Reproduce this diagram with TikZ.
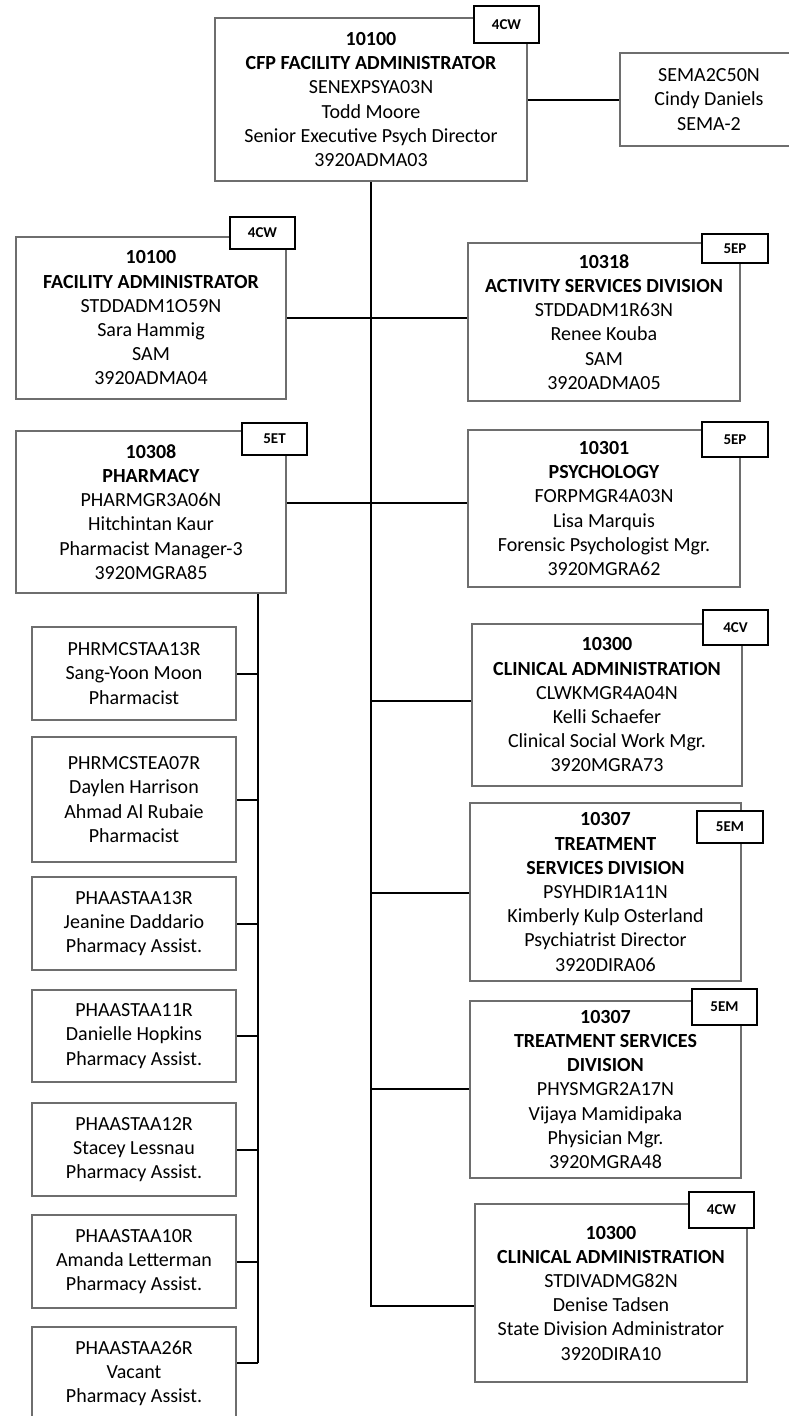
\documentclass[tikz,border=0pt]{standalone}
\usepackage{fontspec}
\setmainfont{Carlito}
\definecolor{boxgray}{RGB}{110,110,110}
\begin{document}
\begin{tikzpicture}[x=1pt,y=-1pt,
  pbox/.style={draw=boxgray, line width=1.1pt, fill=white, align=center, inner sep=0pt, font=\fontsize{20}{24.2}\selectfont},
  tagbox/.style={draw=black, line width=1.8pt, fill=white, inner sep=0pt, font=\fontsize{15}{16}\selectfont\bfseries},
  conn/.style={line width=2pt, black}]
\useasboundingbox (0,0) rectangle (788,1416);

% junction coordinates
\coordinate (j1) at (371,318);
\coordinate (j2) at (371,503);
\coordinate (j3) at (371,701);
\coordinate (j4) at (371,893);
\coordinate (j5) at (371,1089);
\coordinate (jend) at (371,1306);
\coordinate (pstart) at (258,593);
\coordinate (pend) at (258,1363);

% connectors (drawn first, boxes on top)
\draw[conn] (371,181) -- (jend) -- (475,1306);
\draw[conn] (pstart) -- (pend);

% main boxes
\node[pbox, minimum width=312pt, minimum height=163pt] (top) at (371,99.5)
  {\textbf{10100}\\\textbf{CFP FACILITY ADMINISTRATOR}\\SENEXPSYA03N\\Todd Moore\\Senior Executive Psych Director\\3920ADMA03};
\node[pbox, minimum width=178pt, minimum height=93pt] (sema) at (709,99.5)
  {SEMA2C50N\\Cindy Daniels\\SEMA-2};
\node[pbox, minimum width=270pt, minimum height=162pt] (fa) at (151,318)
  {\textbf{10100}\\\textbf{FACILITY ADMINISTRATOR}\\STDDADM1O59N\\Sara Hammig\\SAM\\3920ADMA04};
\node[pbox, minimum width=272pt, minimum height=158pt] (asd) at (604,322)
  {\textbf{10318}\\\textbf{ACTIVITY SERVICES DIVISION}\\STDDADM1R63N\\Renee Kouba\\SAM\\3920ADMA05};
\node[pbox, minimum width=270pt, minimum height=162pt] (ph) at (151,512)
  {\textbf{10308}\\\textbf{PHARMACY}\\PHARMGR3A06N\\Hitchintan Kaur\\Pharmacist Manager-3\\3920MGRA85};
\node[pbox, minimum width=272pt, minimum height=157pt] (psy) at (604,508.5)
  {\textbf{10301}\\\textbf{PSYCHOLOGY}\\FORPMGR4A03N\\Lisa Marquis\\Forensic Psychologist Mgr.\\3920MGRA62};
\node[pbox, minimum width=270pt, minimum height=162pt] (ca1) at (607,705)
  {\textbf{10300}\\\textbf{CLINICAL ADMINISTRATION}\\CLWKMGR4A04N\\Kelli Schaefer\\Clinical Social Work Mgr.\\3920MGRA73};
\node[pbox, minimum width=271pt, minimum height=178pt] (ts1) at (605.5,892)
  {\textbf{10307}\\\textbf{TREATMENT}\\\textbf{SERVICES DIVISION}\\PSYHDIR1A11N\\Kimberly Kulp Osterland\\Psychiatrist Director\\3920DIRA06};
\node[pbox, minimum width=271pt, minimum height=177pt] (ts2) at (605.5,1089.5)
  {\textbf{10307}\\\textbf{TREATMENT SERVICES}\\\textbf{DIVISION}\\PHYSMGR2A17N\\Vijaya Mamidipaka\\Physician Mgr.\\3920MGRA48};
\node[pbox, minimum width=272pt, minimum height=178pt] (ca2) at (611,1293)
  {\textbf{10300}\\\textbf{CLINICAL ADMINISTRATION}\\STDIVADMG82N\\Denise Tadsen\\State Division Administrator\\3920DIRA10};

% pharmacy staff
\node[pbox, minimum width=204pt, minimum height=93pt] (p1) at (134,673.5)
  {PHRMCSTAA13R\\Sang-Yoon Moon\\Pharmacist};
\node[pbox, minimum width=204pt, minimum height=125pt] (p2) at (134,799.5)
  {PHRMCSTEA07R\\Daylen Harrison\\Ahmad Al Rubaie\\Pharmacist};
\node[pbox, minimum width=204pt, minimum height=93pt] (p3) at (134,923.5)
  {PHAASTAA13R\\Jeanine Daddario\\Pharmacy Assist.};
\node[pbox, minimum width=204pt, minimum height=92pt] (p4) at (134,1036)
  {PHAASTAA11R\\Danielle Hopkins\\Pharmacy Assist.};
\node[pbox, minimum width=204pt, minimum height=93pt] (p5) at (134,1149.5)
  {PHAASTAA12R\\Stacey Lessnau\\Pharmacy Assist.};
\node[pbox, minimum width=204pt, minimum height=93pt] (p6) at (134,1261.5)
  {PHAASTAA10R\\Amanda Letterman\\Pharmacy Assist.};
\node[pbox, minimum width=204pt, minimum height=93pt] (p7) at (134,1373.5)
  {PHAASTAA26R\\Vacant\\Pharmacy Assist.};

% tags
\node[tagbox, minimum width=65pt, minimum height=37pt] (tag0) at (506.5,24.5) {4CW};
\node[tagbox, minimum width=65pt, minimum height=32pt] (tag1) at (262.5,233) {4CW};
\node[tagbox, minimum width=66pt, minimum height=29pt] (tag2) at (735,248.5) {5EP};
\node[tagbox, minimum width=65pt, minimum height=32pt] (tag3) at (274.5,439) {5ET};
\node[tagbox, minimum width=66pt, minimum height=35pt] (tag4) at (735,439.5) {5EP};
\node[tagbox, minimum width=65pt, minimum height=35pt] (tag5) at (735.5,627.5) {4CV};
\node[tagbox, minimum width=66pt, minimum height=32pt] (tag6) at (730,827) {5EM};
\node[tagbox, minimum width=65pt, minimum height=36pt] (tag7) at (724.5,1007) {5EM};
\node[tagbox, minimum width=65pt, minimum height=36pt] (tag8) at (721.5,1210) {4CW};

% connectors between named nodes
\draw[conn] (top.east) -- (sema.west);
\draw[conn] (fa.east) -- (fa.east -| asd.west);
\draw[conn] (j2 -| ph.east) -- (j2 -| psy.west);
\draw[conn] (j3) -- (j3 -| ca1.west);
\draw[conn] (j4) -- (j4 -| ts1.west);
\draw[conn] (j5) -- (j5 -| ts2.west);
\draw[conn] (pstart |- p1.east) -- (p1.east);
\draw[conn] (pstart |- p2.east) -- (p2.east);
\draw[conn] (pstart |- p3.east) -- (p3.east);
\draw[conn] (pstart |- p4.east) -- (p4.east);
\draw[conn] (pstart |- p5.east) -- (p5.east);
\draw[conn] (pstart |- p6.east) -- (p6.east);
\draw[conn] (pend) -- (pend -| p7.east);
\end{tikzpicture}
\end{document}
